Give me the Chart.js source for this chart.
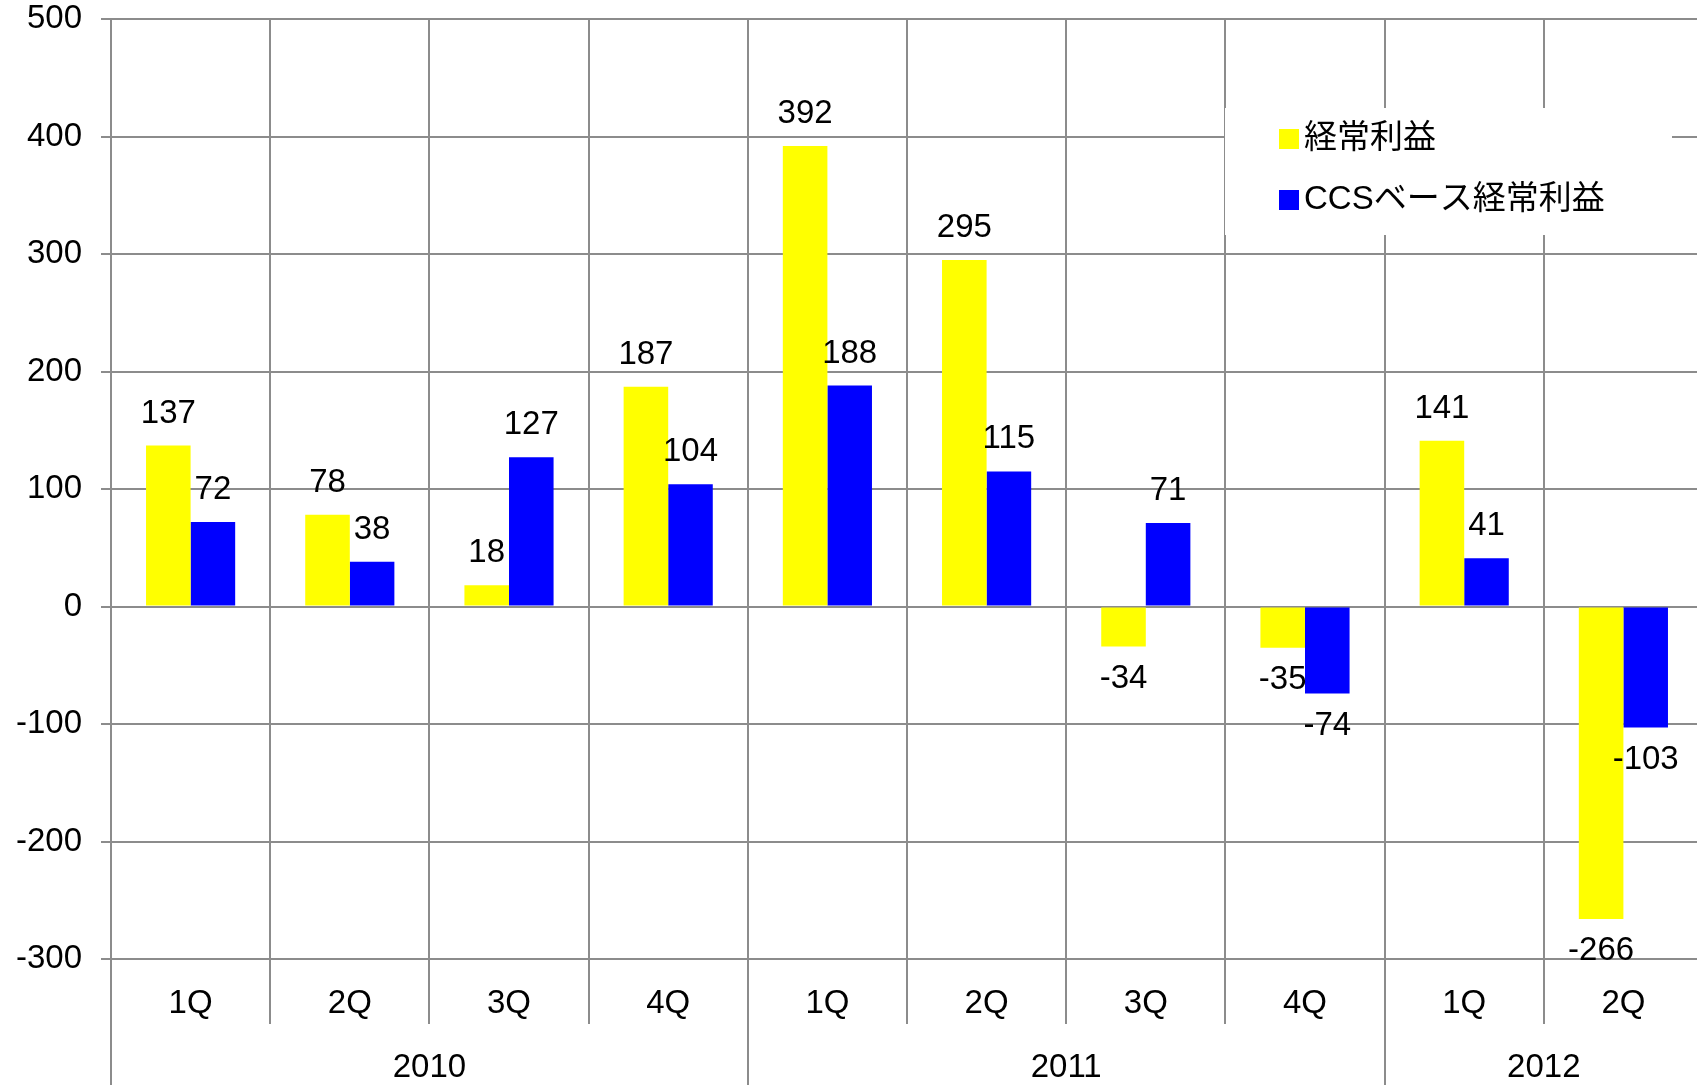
<!DOCTYPE html>
<html>
<head>
<meta charset="utf-8">
<script src="https://cdn.jsdelivr.net/npm/chart.js@4.4.1/dist/chart.umd.min.js"></script>
<style>
    html, body { margin: 0; padding: 0; background: #fff; overflow: hidden; }
    #wrap { width: 1710px; height: 1100px; }
</style>
</head>
<body>
<div id="wrap"><canvas id="chart" width="1710" height="1100"></canvas></div>
<script>
// ================== DATA ==================
const quarters   = ['1Q', '2Q', '3Q', '4Q', '1Q', '2Q', '3Q', '4Q', '1Q', '2Q'];
const years      = ['2010', '2011', '2012'];
const yearSpans  = [4, 4, 2];
const ordinary   = [137, 78, 18, 187, 392, 295, -34, -35, 141, -266];
const ccsBased   = [72, 38, 127, 104, 188, 115, 71, -74, 41, -103];
const seriesNames = ['経常利益', 'CCSベース経常利益'];
const yMin = -300, yMax = 500, yStep = 100;

const FONT = '"Liberation Sans", Arial, "Noto Sans CJK JP", sans-serif';
const GRID = '#8c8c8c';

// year axis ticks: group boundaries + group centres
let yearTicks = [];
let start = -0.5;
yearSpans.forEach((span, i) => {
    yearTicks.push({ value: start, boundary: true });
    yearTicks.push({ value: start + span / 2, label: years[i] });
    start += span;
});
yearTicks.push({ value: start, boundary: true });

function findYearTick(v) {
    return yearTicks.find(t => Math.abs(t.value - v) < 1e-6);
}

// ================== PLUGINS ==================
const valueLabels = {
    id: 'valueLabels',
    afterDatasetsDraw(chart) {
        const ctx = chart.ctx;
        ctx.save();
        ctx.font = '33px ' + FONT;
        ctx.fillStyle = '#000';
        ctx.textAlign = 'center';
        ctx.textBaseline = 'middle';
        chart.data.datasets.forEach((ds, i) => {
            chart.getDatasetMeta(i).data.forEach((bar, j) => {
                const v = ds.data[j];
                const y = v >= 0 ? bar.y - 32 : bar.y + 32;
                ctx.fillText(String(v), bar.x, y);
            });
        });
        ctx.restore();
    }
};

const legendBox = {
    id: 'legendBox',
    afterDraw(chart) {
        const ctx = chart.ctx;
        ctx.save();
        ctx.fillStyle = '#fff';
        ctx.fillRect(1225, 108, 447, 127);
        ctx.font = '33px ' + FONT;
        ctx.textBaseline = 'middle';
        chart.data.datasets.forEach((ds, i) => {
            const y = 139 + i * 61;
            ctx.fillStyle = ds.backgroundColor;
            ctx.fillRect(1279, y - 10, 20, 20);
            ctx.fillStyle = '#000';
            ctx.fillText(ds.label, 1304, y);
        });
        ctx.restore();
    }
};

// ================== CHART ==================
new Chart(document.getElementById('chart'), {
    type: 'bar',
    data: {
        labels: quarters,
        datasets: [
            { label: seriesNames[0], data: ordinary, backgroundColor: '#ffff00' },
            { label: seriesNames[1], data: ccsBased, backgroundColor: '#0000ff' }
        ]
    },
    options: {
        responsive: false,
        animation: false,
        devicePixelRatio: 1,
        categoryPercentage: 0.56,
        barPercentage: 1.0,
        layout: { padding: { top: 19, right: 7, bottom: 0, left: 0 } },
        plugins: {
            legend: { display: false },
            tooltip: { enabled: false }
        },
        scales: {
            y: {
                min: yMin,
                max: yMax,
                afterFit(scale) {
                    scale.width = 111;
                    scale.paddingTop = 0;
                    scale.paddingBottom = 0;
                },
                ticks: { stepSize: yStep, color: '#000', font: { size: 33, family: FONT }, padding: 19 },
                grid: { color: GRID, lineWidth: 2, tickLength: 10, tickColor: GRID },
                border: { color: GRID, width: 2 }
            },
            x: {
                afterFit(scale) { scale.height = 65; },
                ticks: { color: '#000', font: { size: 33, family: FONT }, autoSkip: false, maxRotation: 0, padding: -40 },
                grid: { color: GRID, lineWidth: 2, tickLength: 65, tickColor: GRID, offset: true },
                border: { color: GRID, width: 2 }
            },
            x2: {
                type: 'linear',
                position: 'bottom',
                offset: false,
                min: -0.5,
                max: quarters.length - 0.5,
                afterFit(scale) { scale.height = 76; },
                afterBuildTicks(scale) { scale.ticks = yearTicks.map(t => ({ value: t.value })); },
                ticks: {
                    color: '#000',
                    font: { size: 33, family: FONT },
                    autoSkip: false,
                    maxRotation: 0,
                    padding: -56,
                    callback: (v) => {
                        const t = findYearTick(v);
                        return t && t.label ? t.label : '';
                    }
                },
                grid: {
                    offset: false,
                    drawOnChartArea: false,
                    lineWidth: 2,
                    tickLength: 80,
                    tickColor: (c) => {
                        if (!c.tick) return GRID;
                        const t = findYearTick(c.tick.value);
                        return t && t.boundary ? GRID : 'rgba(0,0,0,0)';
                    }
                },
                border: { display: false }
            }
        }
    },
    plugins: [valueLabels, legendBox]
});
</script>
</body>
</html>
